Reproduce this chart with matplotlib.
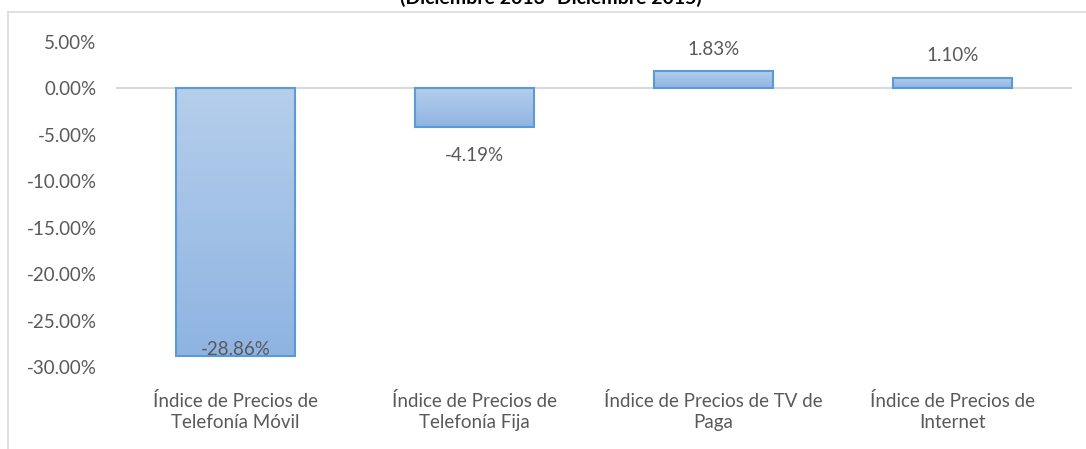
import matplotlib
matplotlib.use("Agg")
import matplotlib.pyplot as plt
import numpy as np
from matplotlib.lines import Line2D
from matplotlib.colors import LinearSegmentedColormap

# Datos
categorias = ["Índice de Precios de\nTelefonía Móvil",
              "Índice de Precios de\nTelefonía Fija",
              "Índice de Precios de TV de\nPaga",
              "Índice de Precios de\nInternet"]
variacion = [-28.86, -4.19, 1.83, 1.10]
ticks_y = [5, 0, -5, -10, -15, -20, -25, -30]

plt.rcParams['font.family'] = ['Lato', 'DejaVu Sans']
gris = "#595959"
tam = 13.5

fig = plt.figure(figsize=(10.86, 4.49), dpi=100)
ax = fig.add_axes([116/1086, 1 - 367/449, (1072 - 116)/1086, (367 - 42)/449])

x = np.arange(len(categorias))
barras = ax.bar(x, variacion, width=0.5, color="none", edgecolor="#5B9BD5",
                linewidth=1.5, zorder=3)

# Degradado dentro de cada barra (claro arriba, más oscuro abajo)
degradado = LinearSegmentedColormap.from_list("deg", ["#8FB4E2", "#B5CEEB"])
for b in barras:
    x0 = b.get_x()
    w = b.get_width()
    y0 = min(b.get_y(), b.get_y() + b.get_height())
    y1 = max(b.get_y(), b.get_y() + b.get_height())
    img = ax.imshow(np.linspace(0, 1, 100).reshape(-1, 1), cmap=degradado,
                    origin="lower", extent=[x0, x0 + w, y0, y1],
                    aspect="auto", zorder=2)
    img.set_clip_path(b)

ax.axhline(0, color="#D9D9D9", linewidth=1.5, zorder=1)

ax.set_xlim(-0.5, len(categorias) - 0.5)
ax.set_ylim(-30, 5)
ax.set_yticks(ticks_y)
ax.set_yticklabels([f"{t:.2f}%" for t in ticks_y])
ax.set_xticks(x)
ax.set_xticklabels(categorias, linespacing=1.3)
ax.tick_params(axis="y", length=0, pad=14, labelsize=tam, labelcolor=gris)
ax.tick_params(axis="x", length=0, pad=18, labelsize=tam, labelcolor=gris)
for s in ax.spines.values():
    s.set_visible(False)

# Etiquetas de datos
for xi, v in zip(x, variacion):
    if v >= 0:
        ax.annotate(f"{v:.2f}%", (xi, v), xytext=(0, 16), textcoords="offset points",
                    ha="center", va="center", fontsize=tam, color=gris)
    elif v > -10:
        ax.annotate(f"{v:.2f}%", (xi, v), xytext=(0, -20), textcoords="offset points",
                    ha="center", va="center", fontsize=tam, color=gris)
    else:
        ax.annotate(f"{v:.2f}%", (xi, v), xytext=(0, 5), textcoords="offset points",
                    ha="center", va="center", fontsize=tam, color=gris, zorder=4)

# Marco del gráfico y título recortado (como en el original)
fig.add_artist(Line2D([8/1086, 1], [1 - 11.5/449, 1 - 11.5/449],
                      transform=fig.transFigure, color="#D9D9D9", linewidth=1.2))
fig.add_artist(Line2D([8/1086, 8/1086], [0, 1 - 11.5/449],
                      transform=fig.transFigure, color="#D9D9D9", linewidth=1.2))
fig.text(551/1086, 1 - 4/449, "(Diciembre 2013- Diciembre 2015)", ha="center",
         va="baseline", fontsize=14, fontweight="bold", color="black")

fig.savefig("out.png", dpi=100)
